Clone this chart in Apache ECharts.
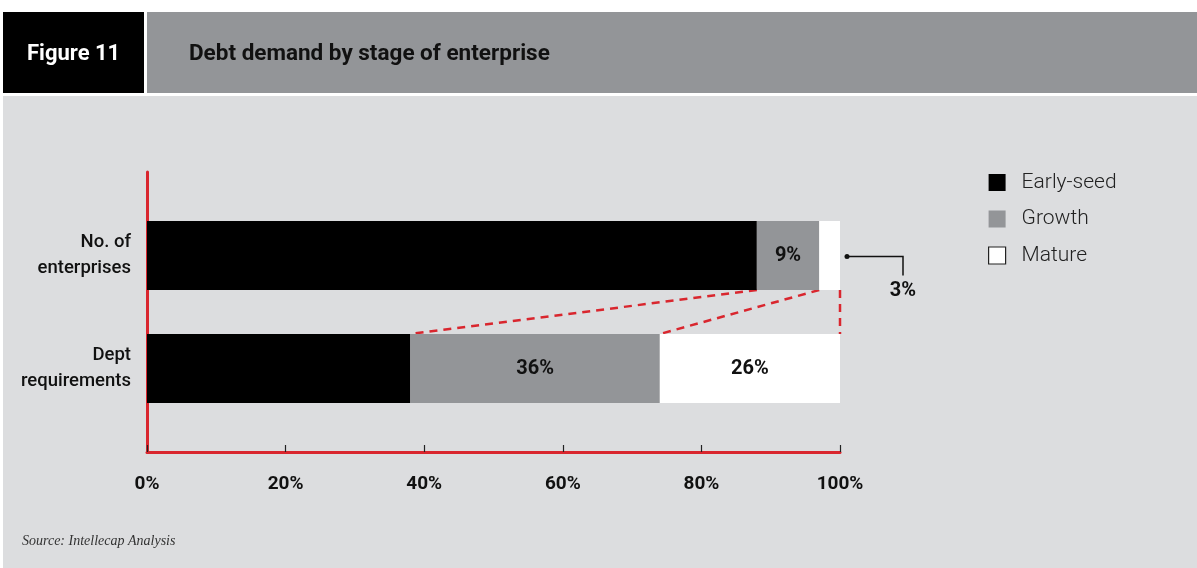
<!DOCTYPE html>
<html>
<head>
<meta charset="utf-8">
<script src="https://cdn.jsdelivr.net/npm/echarts@6/dist/echarts.min.js"></script>
<style>
html,body{margin:0;padding:0;background:#dcdddf;}
#chart{width:1197px;height:568px;}
</style>
</head>
<body>
<div id="chart"></div>
<script>
var categories = ['No. of\nenterprises', 'Dept\nrequirements'];
var earlySeed = [88, 38];
var growth = [9, 36];
var mature = [3, 26];
var xTicks = [0, 20, 40, 60, 80, 100];
var seriesNames = ['Early-seed', 'Growth', 'Mature'];

var FONT = 'Roboto, "Noto Sans", sans-serif';
var RED = '#d9262e';
var GREY = '#939598';

// cumulative boundaries for connectors
var connectors = [
  [earlySeed[0], 0, earlySeed[1]],
  [earlySeed[0] + growth[0], 0, earlySeed[1] + growth[1]],
  [earlySeed[0] + growth[0] + mature[0], 0, earlySeed[1] + growth[1] + mature[1]]
];
var callout = [[earlySeed[0] + growth[0] + mature[0], 0, mature[0]]];

var chart = echarts.init(document.getElementById('chart'), null, {renderer: 'canvas'});
var BAR_W = 69;

var option = {
  backgroundColor: '#dcdddf',
  animation: false,
  graphic: [
    {type: 'rect', shape: {x: 0, y: 0, width: 1197, height: 12}, style: {fill: '#fff'}, silent: true},
    {type: 'rect', shape: {x: 0, y: 0, width: 3, height: 568}, style: {fill: '#fff'}, silent: true},
    {type: 'rect', shape: {x: 3, y: 12, width: 141, height: 81}, style: {fill: '#000'}, silent: true},
    {type: 'rect', shape: {x: 144, y: 12, width: 3, height: 81}, style: {fill: '#fff'}, silent: true},
    {type: 'rect', shape: {x: 147, y: 12, width: 1050, height: 81}, style: {fill: GREY}, silent: true},
    {type: 'rect', shape: {x: 0, y: 93, width: 1197, height: 3}, style: {fill: '#fff'}, silent: true},
    {type: 'text', x: 27, y: 54, style: {text: 'Figure 11', fill: '#fff', font: 'bold 22px ' + FONT, verticalAlign: 'middle'}},
    {type: 'text', x: 189, y: 54, style: {text: 'Debt demand by stage of enterprise', fill: '#111', font: 'bold 22.5px ' + FONT, verticalAlign: 'middle'}},
    {type: 'text', x: 22, y: 541, style: {text: 'Source: Intellecap Analysis', fill: '#333', font: 'italic 14px "Liberation Serif", "DejaVu Serif", serif', verticalAlign: 'middle'}}
  ],
  legend: {
    orient: 'vertical',
    left: 988,
    top: 172,
    padding: 0,
    itemWidth: 17,
    itemHeight: 17,
    itemGap: 15.5,
    icon: 'rect',
    textStyle: {fontFamily: FONT, fontWeight: 300, fontSize: 21, color: '#222', lineHeight: 21, padding: [0, 0, 0, 11]},
    data: [
      {name: seriesNames[0]},
      {name: seriesNames[1]},
      {name: seriesNames[2], itemStyle: {borderColor: '#222', borderWidth: 1.2}}
    ]
  },
  grid: [
    {left: 147, width: 693, top: 172, height: 280},
    {left: 147, width: 693, top: 199, height: 226}
  ],
  xAxis: [
    {
      type: 'value', gridIndex: 0, min: 0, max: 100, interval: 20,
      axisLine: {show: true, lineStyle: {color: RED, width: 3}},
      axisTick: {show: true, inside: true, length: 7, lineStyle: {color: '#222', width: 1.2}},
      splitLine: {show: false},
      axisLabel: {
        margin: 23, color: '#111', fontFamily: FONT, fontWeight: 'bold', fontSize: 19,
        formatter: function (v) { return xTicks.indexOf(v) >= 0 ? v + '%' : ''; }
      }
    },
    {type: 'value', gridIndex: 1, min: 0, max: 100, show: false}
  ],
  yAxis: [
    {
      type: 'category', gridIndex: 0, data: ['', ''],
      axisLine: {show: true, lineStyle: {color: RED, width: 3}},
      axisTick: {show: false}, axisLabel: {show: false}
    },
    {
      type: 'category', gridIndex: 1, data: categories, inverse: true,
      axisLine: {show: false}, axisTick: {show: false},
      axisLabel: {margin: 16, color: '#111', fontFamily: FONT, fontWeight: 500, fontSize: 18.5, lineHeight: 26, align: 'right'}
    }
  ],
  series: [
    {
      name: seriesNames[0], type: 'bar', stack: 'a', xAxisIndex: 1, yAxisIndex: 1,
      barWidth: BAR_W, itemStyle: {color: '#000'}, data: earlySeed
    },
    {
      name: seriesNames[1], type: 'bar', stack: 'a', xAxisIndex: 1, yAxisIndex: 1,
      barWidth: BAR_W, itemStyle: {color: GREY},
      label: {show: true, position: 'inside', formatter: '{c}%', color: '#111', fontFamily: FONT, fontWeight: 'bold', fontSize: 20},
      data: growth
    },
    {
      name: seriesNames[2], type: 'bar', stack: 'a', xAxisIndex: 1, yAxisIndex: 1,
      barWidth: BAR_W, itemStyle: {color: '#fff'},
      label: {show: true, position: 'inside', formatter: '{c}%', color: '#111', fontFamily: FONT, fontWeight: 'bold', fontSize: 20},
      data: mature.map(function (v, i) { return i === 0 ? {value: v, label: {show: false}} : v; })
    },
    {
      type: 'custom', xAxisIndex: 1, yAxisIndex: 1, silent: true,
      encode: {x: 0, y: 1},
      renderItem: function (params, api) {
        var p0 = api.coord([api.value(0), 0]);
        var p1 = api.coord([api.value(2), 1]);
        var half = BAR_W / 2;
        return {
          type: 'line',
          shape: {x1: p0[0], y1: p0[1] + half, x2: p1[0], y2: p1[1] - half},
          style: {stroke: RED, lineWidth: 2.5, lineDash: [8, 6]}
        };
      },
      data: connectors,
      z: 1
    },
    {
      type: 'custom', xAxisIndex: 1, yAxisIndex: 1, silent: true,
      encode: {x: 0, y: 1},
      renderItem: function (params, api) {
        var p = api.coord([api.value(0), 0]);
        var x0 = p[0] + 7, y0 = p[1] + 1, x1 = p[0] + 63, y1 = y0 + 19;
        return {
          type: 'group',
          children: [
            {type: 'polyline', shape: {points: [[x0, y0], [x1, y0], [x1, y1]]}, style: {stroke: '#111', lineWidth: 1.5, fill: null}},
            {type: 'circle', shape: {cx: x0, cy: y0, r: 2.5}, style: {fill: '#111'}},
            {type: 'text', x: x1, y: y1 + 15, style: {text: api.value(2) + '%', fill: '#111', font: 'bold 20px ' + FONT, align: 'center', verticalAlign: 'middle'}}
          ]
        };
      },
      data: callout,
      z: 5
    }
  ]
};
chart.setOption(option);
</script>
</body>
</html>
